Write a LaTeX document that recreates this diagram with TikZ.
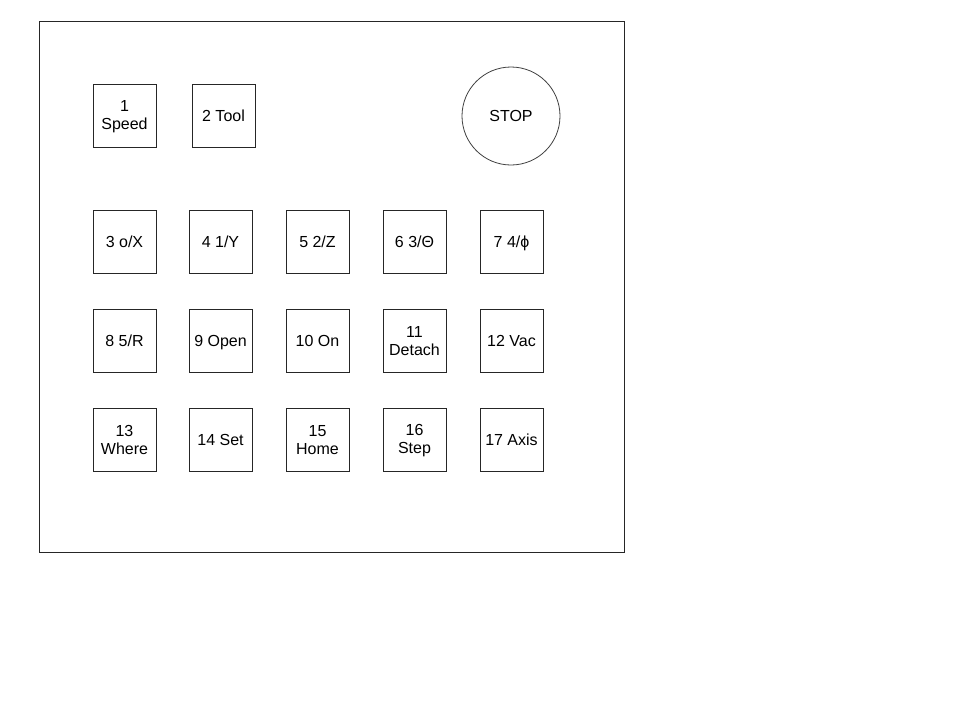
\documentclass[tikz,border=0pt]{standalone}
\usepackage{fontspec}
\setmainfont{Liberation Sans}
\newcommand\ks{\rule[-1.6pt]{0pt}{14.6pt}}
\newcommand\kd{\rule[-4pt]{0pt}{19.4pt}}
\begin{document}
\begin{tikzpicture}[x=1pt,y=-1pt,
  key/.style={draw=black!85,line width=0.8pt,minimum width=63pt,minimum height=63pt,inner sep=0pt,align=center,font=\fontsize{16}{18}\selectfont},
  stopbtn/.style={draw=black!75,line width=0.8pt,circle,minimum size=98pt,inner sep=0pt,font=\fontsize{16}{18}\selectfont}]
\useasboundingbox (0,0) rectangle (960,720);
\node[draw=black!85,line width=0.8pt,minimum width=585pt,minimum height=531pt,inner sep=0pt] (panel) at (331.5,286.5) {};
\node[key] (k1) at (124.5,116) {\ks 1\\\ks Speed};
\node[key] (k2) at (223.5,116) {\kd 2 Tool};
\node[stopbtn] (stop) at (511,116) {\kd STOP};
\node[key] (k3) at (124.5,241.5) {\kd 3 o/X};
\node[key] (k4) at (220.5,241.5) {\kd 4 1/Y};
\node[key] (k5) at (317.5,241.5) {\kd 5 2/Z};
\node[key] (k6) at (414.5,241.5) {\kd 6 3/Θ};
\node[key] (k7) at (511.5,241.5) {\kd 7 4/ϕ};
\node[key] (k8) at (124.5,340.5) {\kd 8 5/R};
\node[key] (k9) at (220.5,340.5) {\kd 9 Open};
\node[key] (k10) at (317.5,340.5) {\kd 10 On};
\node[key] (k11) at (414.5,340.5) {\ks 11\\\ks Detach};
\node[key] (k12) at (511.5,340.5) {\kd 12 Vac};
\node[key] (k13) at (124.5,439.5) {\ks 13\\\ks Where};
\node[key] (k14) at (220.5,439.5) {\kd 14 Set};
\node[key] (k15) at (317.5,439.5) {\ks 15\\\ks Home};
\node[key] (k16) at (414.5,439.5) {\ks 16\\\ks Step};
\node[key] (k17) at (511.5,439.5) {\kd 17 Axis};
\end{tikzpicture}
\end{document}
